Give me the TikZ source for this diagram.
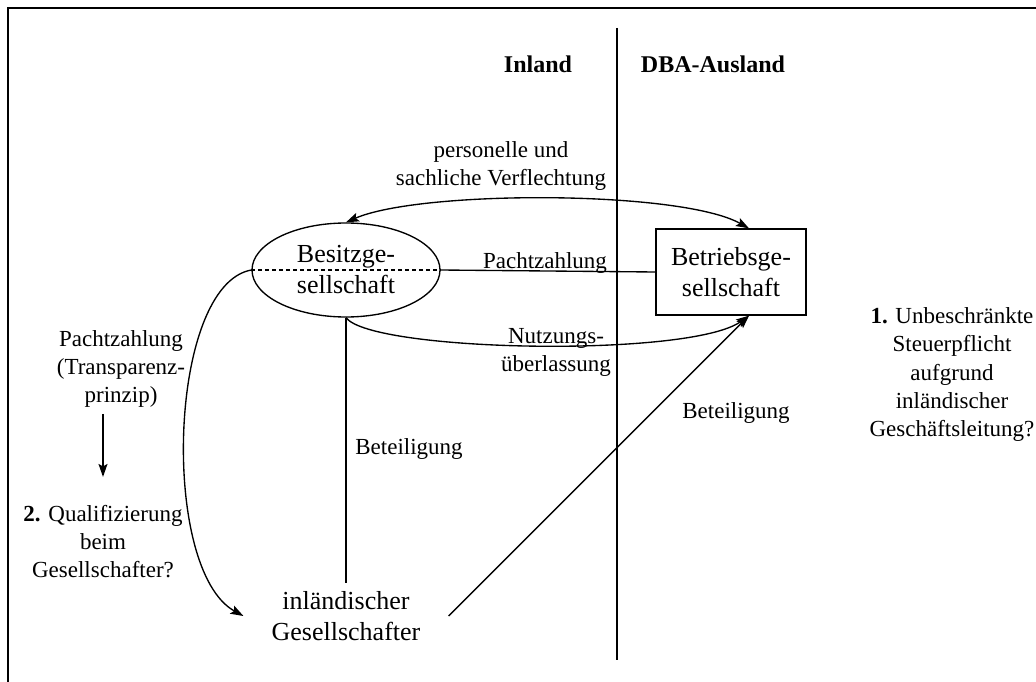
\documentclass[tikz,border=0pt]{standalone}
\usepackage{fontspec}
\setmainfont{Liberation Serif}
\usetikzlibrary{arrows.meta,shapes.geometric,calc}
\begin{document}
\begin{tikzpicture}[x=1pt,y=-1pt,
  sm/.style={font=\fontsize{23}{28.3}\selectfont, align=center, inner sep=0pt},
  hd/.style={font=\fontsize{24}{28}\selectfont\bfseries, inner sep=0pt, anchor=base},
  bg/.style={font=\fontsize{26}{31}\selectfont, align=center},
  conn/.style={line width=1.35pt},
  tip/.tip={Stealth[length=13pt,width=9pt,inset=2.5pt]},
  arr/.style={conn, -tip},
  darr/.style={conn, tip-tip},
]
\useasboundingbox (0,0) rectangle (1036,682);
\draw[line width=1.6pt] (8,700) -- (8,8) -- (1050,8);
\coordinate (septop) at (617,28);
\coordinate (sepbot) at (617,660);
\draw[conn] (septop) -- (sepbot);

\node[hd] (inland) at (538,73) {Inland};
\node[hd] (ausland) at (713,73) {DBA-Ausland};

\node[ellipse, draw, conn, bg, minimum width=188pt, minimum height=94pt, inner sep=0pt] (besitz) at (346,270) {Besitzge-\\sellschaft};
\node[rectangle, draw, conn, bg, minimum width=150pt, minimum height=86pt, inner sep=0pt] (betrieb) at (731,272) {Betriebsge-\\sellschaft};
\node[bg, inner xsep=28pt, inner ysep=8pt] (ges) at (346,616) {inländischer\\Gesellschafter};

\draw[conn, dash pattern=on 4pt off 3pt] (besitz.west) -- (besitz.east);
\draw[conn] (besitz.east) -- (betrieb.west);
\node[sm, anchor=base] (lpacht) at (545,268) {Pachtzahlung};

\draw[darr] (besitz.north) .. controls (420,190) and (680,190) .. ($(betrieb.north)+(18,0)$);
\node[sm] (lverfl) at (501,165.7) {personelle und\\sachliche Verflechtung};

\draw[arr] (besitz.south) .. controls (372,352) and (690,358) .. ($(betrieb.south)+(18,0)$);
\node[sm] (lnutz) at (556,352.4) {Nutzungs-\\überlassung};

\draw[conn] (besitz.south) -- (ges.north);
\node[sm, anchor=base] (lbet1) at (409,454) {Beteiligung};

\draw[arr] (ges.east) -- ($(betrieb.south)+(18,0)$);
\node[sm, anchor=base] (lbet2) at (736,418) {Beteiligung};

\draw[arr] (besitz.west) .. controls (168,285) and (160,570) .. (ges.west);

\node[sm] (pacht2) at (121,369) {Pachtzahlung\\(Transparenz-\\prinzip)};
\node[sm] (qual) at (103,541.7) {\textbf{2.} Qualifizierung\\beim\\Gesellschafter?};
\draw[arr] ($(pacht2.south -| qual.north)+(0,6)$) -- ($(qual.north)+(0,-28)$);

\node[sm] (steuer) at (952,374.7) {\textbf{1.} Unbeschränkte\\Steuerpflicht\\aufgrund\\inländischer\\Geschäftsleitung?};
\end{tikzpicture}
\end{document}
